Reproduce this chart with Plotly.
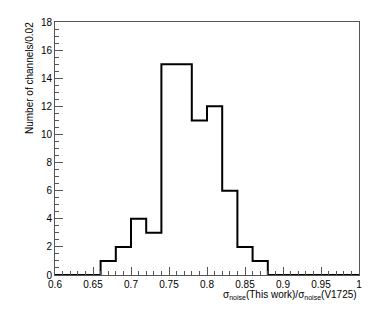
import plotly.graph_objects as go

bin_edges = [0.60, 0.62, 0.64, 0.66, 0.68, 0.70, 0.72, 0.74, 0.76, 0.78, 0.80,
             0.82, 0.84, 0.86, 0.88, 0.90, 0.92, 0.94, 0.96, 0.98, 1.00]
counts = [0, 0, 0, 1, 2, 4, 3, 15, 15, 11, 12, 6, 2, 1, 0, 0, 0, 0, 0, 0]
x_ticks = [0.6, 0.65, 0.7, 0.75, 0.8, 0.85, 0.9, 0.95, 1.0]
x_tick_labels = ["0.6", "0.65", "0.7", "0.75", "0.8", "0.85", "0.9", "0.95", "1"]
y_ticks = [0, 2, 4, 6, 8, 10, 12, 14, 16, 18]

FONT = "Liberation Sans, Arial, Helvetica, sans-serif"

fig = go.Figure()
fig.add_trace(go.Scatter(
    x=bin_edges,
    y=counts + [counts[-1]],
    mode="lines",
    line=dict(shape="hv", color="black", width=2),
    hoverinfo="skip",
    showlegend=False,
))

fig.update_layout(
    width=374, height=316,
    margin=dict(l=55, r=15, t=22, b=41),
    paper_bgcolor="white", plot_bgcolor="white",
    font=dict(family=FONT, size=10, color="black"),
    showlegend=False,
)
fig.update_xaxes(
    range=[0.6, 1.0], showgrid=False, zeroline=False, automargin=False,
    showline=True, linecolor="#555", linewidth=1, mirror=True,
    ticks="inside", ticklen=8, tickcolor="#555",
    tickvals=x_ticks, ticktext=x_tick_labels,
    minor=dict(ticks="inside", ticklen=4, dtick=0.01, tick0=0.6, tickcolor="#555", showgrid=False),
    tickfont=dict(size=10),
)
fig.update_yaxes(
    range=[0, 18], showgrid=False, zeroline=False, automargin=False,
    showline=True, linecolor="#555", linewidth=1, mirror=True,
    ticks="inside", ticklen=8, tickcolor="#555",
    tickvals=y_ticks,
    minor=dict(ticks="inside", ticklen=4, dtick=0.5, tick0=0, tickcolor="#555", showgrid=False),
    tickfont=dict(size=10),
)
fig.add_annotation(
    text="Number of channels/0.02", textangle=-90,
    xref="paper", yref="paper", x=-0.0, xshift=-26, y=1.0, yshift=2,
    xanchor="center", yanchor="top", showarrow=False,
    font=dict(size=10, family=FONT),
)
fig.add_annotation(
    text="σ<sub>noise</sub>(This work)/σ<sub>noise</sub>(V1725)",
    xref="paper", yref="paper", x=1.0, y=0, yshift=-12,
    xanchor="right", yanchor="top", showarrow=False,
    font=dict(size=10, family=FONT),
)

fig.write_html("out.html", config={"displayModeBar": False},
               post_script="document.body.style.margin='0';document.body.style.padding='0';")
